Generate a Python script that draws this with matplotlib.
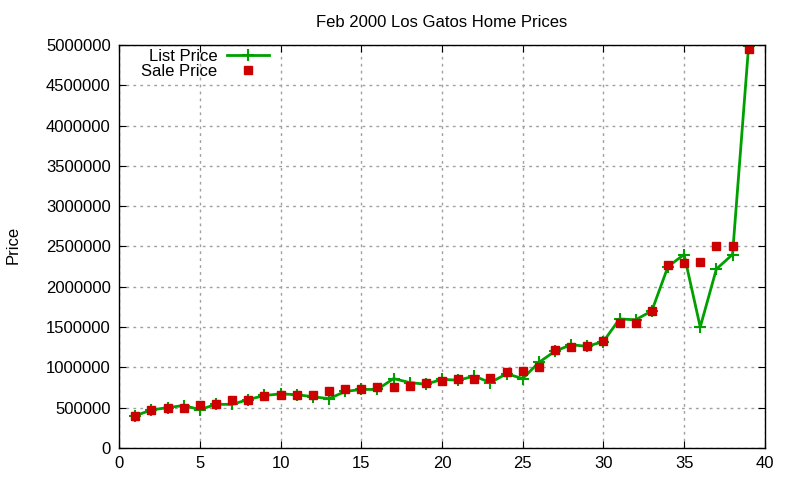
import numpy as np
import matplotlib
matplotlib.use("Agg")
import matplotlib.pyplot as plt

plt.rcParams['font.family'] = ['Liberation Sans', 'DejaVu Sans']

homes = np.arange(1, 40)
list_price = [400000, 470000, 500000, 525000, 475000, 540000, 540000, 600000, 650000, 670000,
              660000, 635000, 610000, 700000, 725000, 725000, 860000, 810000, 790000, 850000,
              840000, 890000, 810000, 920000, 860000, 1060000, 1200000, 1280000, 1260000, 1320000,
              1600000, 1590000, 1700000, 2250000, 2400000, 1500000, 2220000, 2400000, 4995000]
sale_price = [400000, 475000, 500000, 500000, 535000, 550000, 600000, 600000, 640000, 650000,
              660000, 660000, 710000, 725000, 735000, 750000, 760000, 765000, 810000, 825000,
              850000, 850000, 870000, 940000, 960000, 1000000, 1210000, 1250000, 1260000, 1330000,
              1545000, 1555000, 1700000, 2270000, 2295000, 2310000, 2510000, 2510000, 4950000]

fig = plt.figure(figsize=(8, 4.8), dpi=100)
ax = fig.add_axes([0.149, 0.067, 0.807, 0.839])

ax.plot(homes, list_price, color="#00a000", lw=2, marker="+", ms=9, mew=1.5, label="List Price")
ax.plot(homes, sale_price, ls="none", color="#cc0000", marker="s", ms=6, label="Sale Price")

ax.set_xlim(0, 40)
ax.set_ylim(0, 5000000)
ax.set_xticks(range(0, 41, 5))
ax.set_yticks(range(0, 5000001, 500000))
ax.ticklabel_format(style="plain", axis="y")
ax.grid(True, color="#a0a0a0", ls=(0, (2, 3)), lw=1)
ax.tick_params(direction="in", top=True, right=True, length=5, labelsize=12, pad=6)
for s in ax.spines.values():
    s.set_linewidth(1)

ax.set_title("Feb 2000 Los Gatos Home Prices", fontsize=12, pad=13)
fig.text(0.017, 0.49, "Price", rotation=90, fontsize=12, va="center", ha="center")

ax.legend(loc="upper left", bbox_to_anchor=(0.016, 1.02), frameon=False, markerfirst=False,
          fontsize=12, handlelength=2.5, handletextpad=0.6, labelspacing=0.0, borderaxespad=0.3)

fig.savefig("out.png", dpi=100)
